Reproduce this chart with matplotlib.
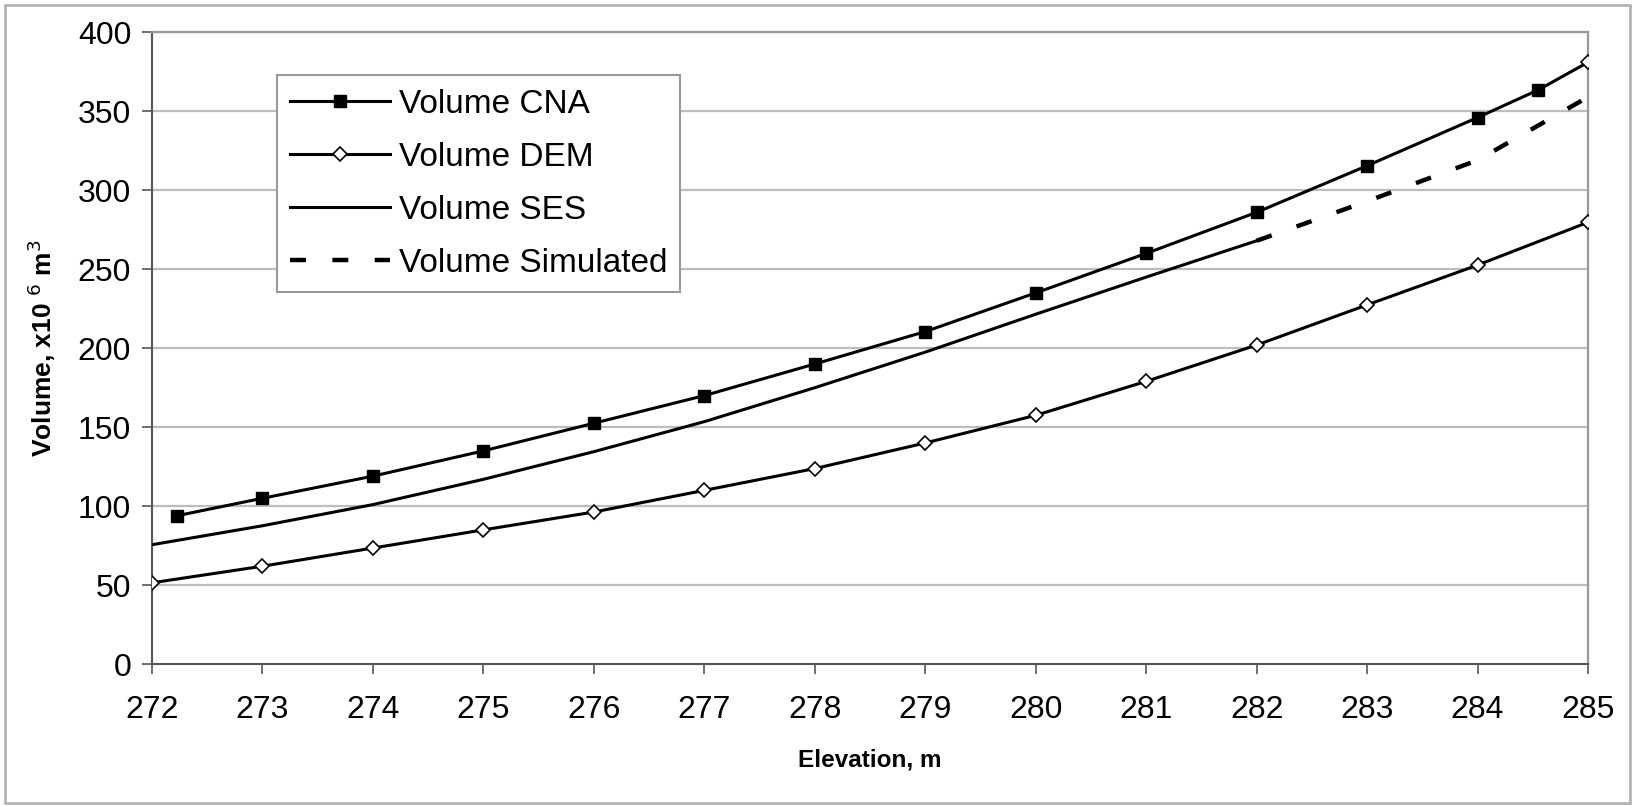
import numpy as np
import matplotlib
matplotlib.use('Agg')
import matplotlib.pyplot as plt
from matplotlib.patches import Rectangle

# values (volume in 10^6 m3 versus elevation in m)
cna_elev = [272.23, 273, 274, 275, 276, 277, 278, 279, 280, 281, 282, 283, 284, 284.55, 285]
cna_vol = [94, 105, 119, 135, 152.5, 170, 190, 210.5, 235, 260, 286, 315.5, 346, 363.5, 381]

dem_elev = [272, 273, 274, 275, 276, 277, 278, 279, 280, 281, 282, 283, 284, 285]
dem_vol = [51.5, 62, 73.5, 85, 96.3, 110, 123.8, 140, 157.5, 179, 202, 227.4, 252.6, 279.7]

ses_elev = [272, 273, 274, 275, 276, 277, 278, 279, 280, 281, 282]
ses_vol = [75.6, 87.6, 101, 117, 134.5, 153.5, 175, 197.5, 221.5, 245, 268]

sim_elev = [282, 283, 284, 285]
sim_vol = [268, 293, 319, 359]

xticks = list(range(272, 286))
yticks = list(range(0, 401, 50))

plt.rcParams['font.family'] = ['Liberation Sans', 'DejaVu Sans']
plt.rcParams['lines.scale_dashes'] = False

fig = plt.figure(figsize=(16.4, 8.06), dpi=100)
ax = fig.add_axes([0.0927, 0.176, 0.8756, 0.784])

# outer frame round the whole chart
fig.patches.append(Rectangle((0.003, 0.004), 0.991, 0.99, transform=fig.transFigure,
                             fill=False, edgecolor='#b4b4b4', linewidth=2))

for y in yticks[1:]:
    ax.axhline(y, color='#bdbdbd', linewidth=1.6, zorder=0)

ax.plot(cna_elev, cna_vol, color='black', linewidth=2.2, marker='s', markersize=9,
        markevery=list(range(len(cna_elev) - 1)), label='Volume CNA', zorder=3)
ax.plot(cna_elev[-1:], cna_vol[-1:], linestyle='none', marker='D', markersize=7.5,
        markerfacecolor='white', markeredgecolor='black', markeredgewidth=1.2, zorder=4)
ax.plot(dem_elev, dem_vol, color='black', linewidth=2.2, marker='D', markersize=7.5,
        markerfacecolor='white', markeredgecolor='black', markeredgewidth=1.2,
        label='Volume DEM', zorder=3)
ax.plot(ses_elev, ses_vol, color='black', linewidth=2.2, label='Volume SES', zorder=3)
ax.plot(sim_elev, sim_vol, color='black', linewidth=3.2, dashes=(11.5, 19),
        label='Volume Simulated', zorder=3)

ax.set_xlim(272, 285)
ax.set_ylim(0, 400)
ax.set_xticks(xticks)
ax.set_yticks(yticks)
ax.tick_params(axis='both', labelsize=23, length=7, width=1.2, color='#555555')
ax.tick_params(axis='x', pad=15)
ax.tick_params(axis='y', pad=8)

for side in ['left', 'bottom']:
    ax.spines[side].set_color('#555555')
    ax.spines[side].set_linewidth(1.5)
for side in ['right', 'top']:
    ax.spines[side].set_color('#9a9a9a')
    ax.spines[side].set_linewidth(1.6)

ax.set_xlabel('Elevation, m', fontsize=17.5, fontweight='bold', labelpad=17)
ax.set_ylabel('Volume, x10 $^6$ m$^3$', fontsize=19, fontweight='bold', labelpad=14)

leg = ax.legend(loc='upper left', bbox_to_anchor=(0.087, 0.932), fontsize=24,
                frameon=True, fancybox=False, edgecolor='#9a9a9a', framealpha=1,
                handlelength=3.0, handletextpad=0.25, labelspacing=0.66,
                borderpad=0.4, borderaxespad=0)
leg.get_frame().set_linewidth(1.5)

fig.savefig('out.png', dpi=100)
